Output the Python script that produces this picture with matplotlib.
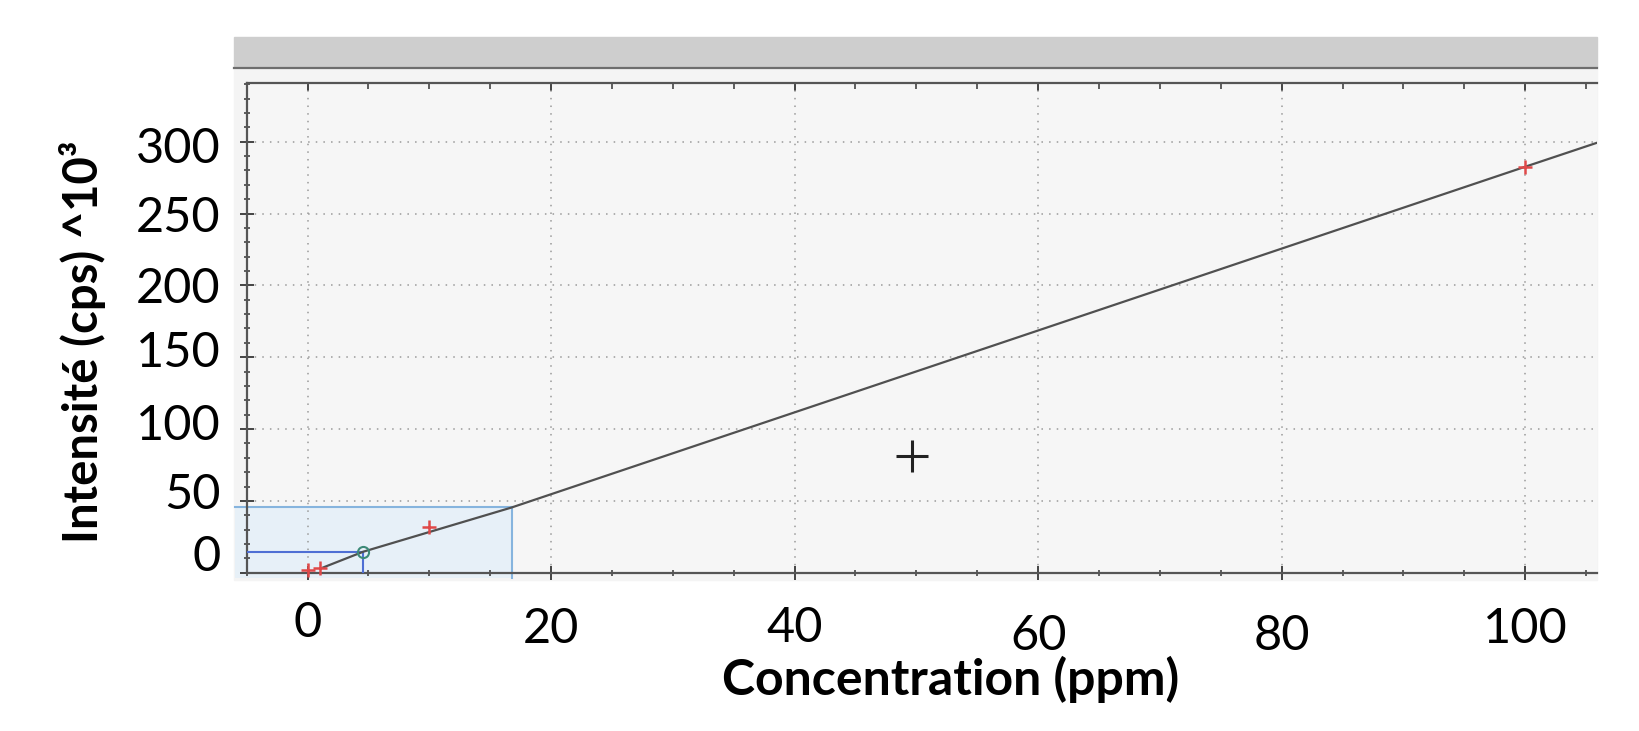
import matplotlib
matplotlib.use('Agg')
import matplotlib.pyplot as plt
from matplotlib.patches import Rectangle
from matplotlib.lines import Line2D
from matplotlib.transforms import ScaledTranslation

plt.rcParams['font.family'] = ['Lato', 'DejaVu Sans']

# calibration standards (red crosses)
std_conc = [0, 1, 10, 100]
std_int = [2, 3.5, 32, 282.6]

# measured sample (circle) and its projection box
sample_conc = [4.57]
sample_int = [14.6]
box_conc = 16.76
box_int = 45.4

# calibration line
line_conc = [1.3, 4.57, 16.76, 100, 105.9]
line_int = [3.7, 14.6, 45.4, 282.6, 299.3]

# cursor
cursor_conc = [49.6]
cursor_int = [81]

x_ticks = [0, 20, 40, 60, 80, 100]
y_ticks = [0, 50, 100, 150, 200, 250, 300]

fig = plt.figure(figsize=(16.4, 7.31), dpi=100)
W, H = 1640, 731

# window background and header bar (screenshot look)
fig.patches.append(Rectangle((234 / W, 1 - 580 / H), (1597 - 234) / W, (580 - 68) / H,
                             transform=fig.transFigure, color='#f4f4f4', zorder=-2))
fig.patches.append(Rectangle((234 / W, 1 - 67 / H), (1597 - 234) / W, 30 / H,
                             transform=fig.transFigure, color='#cecece', zorder=-2))
fig.lines.append(Line2D([234 / W, 1597 / W], [1 - 68 / H, 1 - 68 / H], transform=fig.transFigure,
                        color='#6e6e6e', lw=1.6, zorder=-1))

ax = fig.add_axes([246.7 / W, 1 - 572.7 / H, (1597 - 246.7) / W, (572.7 - 83) / H])
ax.set_facecolor('#f6f6f6')
ax.set_xlim(-5, 105.9)
ax.set_ylim(0, 340.9)

# projection box of the sample
ax.add_patch(Rectangle((-6.0, -4), box_conc + 6.0, box_int + 4, facecolor='#e4eff9',
                       edgecolor='none', alpha=0.8, clip_on=False, zorder=1))
ax.plot([-6.0, box_conc], [box_int, box_int], color='#86b4de', lw=1.5, clip_on=False, zorder=2)
ax.plot([box_conc, box_conc], [box_int, -4], color='#86b4de', lw=1.5, clip_on=False, zorder=2)
ax.plot([-5, sample_conc[0]], [sample_int[0], sample_int[0]], color='#4f6fd4', lw=1.5, zorder=3)
ax.plot([sample_conc[0], sample_conc[0]], [sample_int[0], 0], color='#4f6fd4', lw=1.5, zorder=3)

ax.plot(line_conc, line_int, color='#505050', lw=1.6, zorder=4)
ax.plot(std_conc, std_int, '+', color='#e04848', markersize=10, mew=1.8, clip_on=False, zorder=5)
ax.plot(sample_conc, sample_int, 'o', mfc='none', mec='#3d8a78', markersize=8, mew=1.5, zorder=5)
ax.plot(cursor_conc, cursor_int, '+', color='#222222', markersize=23, mew=2.2, zorder=5)

ax.set_xticks(x_ticks)
ax.set_yticks(y_ticks)
ax.set_xticks(range(-5, 106, 5), minor=True)
ax.set_yticks(range(0, 341, 10), minor=True)
ax.grid(True, which='major', color='#9a9a9a', linestyle=(0, (1, 4)), lw=1.1)
ax.tick_params(which='major', direction='inout', length=10, width=1.4, color='#444444',
               labelsize=35)
ax.tick_params(axis='x', which='major', pad=20)
ax.tick_params(axis='y', which='major', pad=14)
ax.tick_params(which='minor', direction='inout', length=5, width=1.2, color='#444444')

for side in ['left', 'bottom', 'top']:
    ax.spines[side].set_color('#555555')
    ax.spines[side].set_linewidth(1.6)
ax.spines['right'].set_visible(False)

top = ax.secondary_xaxis('top')
top.set_xticks(x_ticks)
top.set_xticks(range(-5, 106, 5), minor=True)
top.tick_params(which='major', direction='in', length=6, width=1.4, color='#444444', labeltop=False)
top.tick_params(which='minor', direction='in', length=4, width=1.2, color='#444444')
top.spines['top'].set_visible(False)

# the tick labels in the reference drift a little from their ticks
y_shift = [19.7, 10, 7, 8.7, 0.7, 0, -3.3]
for lbl, dy in zip(ax.get_yticklabels(), y_shift):
    lbl.set_transform(lbl.get_transform() + ScaledTranslation(0, dy / 100, fig.dpi_scale_trans))
x_shift = [6, 0, 1, -7, -7, 0]
for lbl, dy in zip(ax.get_xticklabels(), x_shift):
    lbl.set_transform(lbl.get_transform() + ScaledTranslation(0, dy / 100, fig.dpi_scale_trans))

ax.set_xlabel('Concentration (ppm)', fontsize=36, fontweight='bold')
ax.xaxis.set_label_coords(0.5216, -0.25)
ax.xaxis.label.set_va('baseline')

ax.set_ylabel('Intensité (cps) ^10³', fontsize=34, fontweight='bold')
ax.yaxis.set_label_coords(-0.11, 0.471)
ax.yaxis.label.set_rotation_mode('anchor')
ax.yaxis.label.set_ha('center')
ax.yaxis.label.set_va('baseline')

plt.savefig('out.png', dpi=100)
